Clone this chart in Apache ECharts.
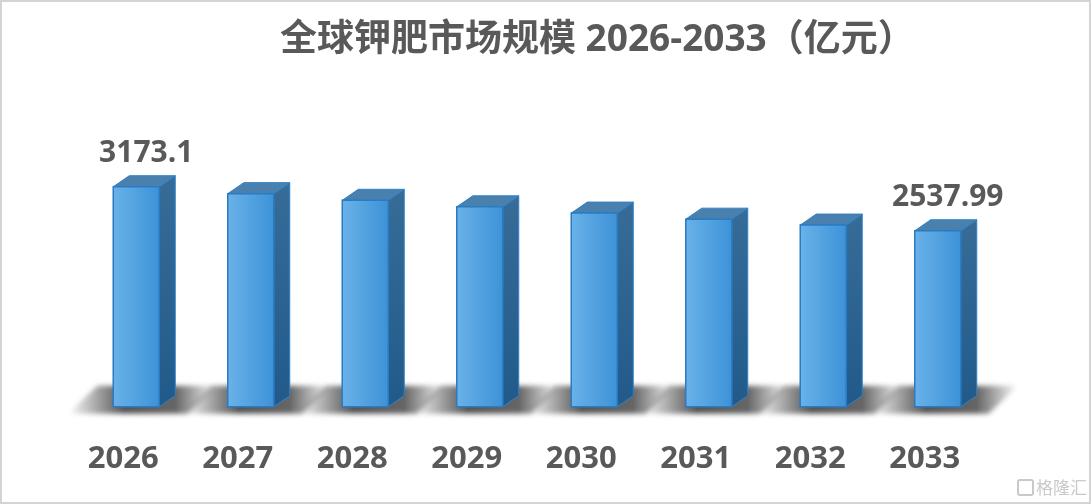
<!DOCTYPE html>
<html><head><meta charset="utf-8">
<script src="https://cdn.jsdelivr.net/npm/echarts@6/dist/echarts.min.js"></script>
<style>html,body{margin:0;padding:0;background:#fff}#c{width:1091px;height:504px}</style>
</head><body><div id="c"></div>
<script>
var titleText = '全球钾肥市场规模 2026-2033（亿元）';
var categories = ['2026','2027','2028','2029','2030','2031','2032','2033'];
var values = [3173.1, 3073.4, 2976.9, 2883.4, 2792.8, 2705.1, 2620.1, 2537.99];
var labeledIndices = [0, 7];

var chart = echarts.init(document.getElementById('c'));
var FW = 46, DX = 16, DY = -11;
var OFF = 3000;

function shadowItem(params, api) {
  var idx = api.value(0);
  var b = api.coord([idx, 0]);
  var xl = b[0] - FW / 2 - OFF;
  var y = b[1];
  return {
    type: 'polygon',
    shape: { points: [[xl - 46, y + 7], [xl - 16, y - 21], [xl + 104, y - 21], [xl + 74, y + 7]] },
    style: {
      fill: new echarts.graphic.LinearGradient(0, 0, 1, 0, [
        { offset: 0, color: 'rgba(0,0,0,0)' },
        { offset: 0.22, color: 'rgba(0,0,0,0.55)' },
        { offset: 0.38, color: 'rgba(0,0,0,0.95)' },
        { offset: 0.72, color: 'rgba(0,0,0,0.85)' },
        { offset: 1, color: 'rgba(0,0,0,0)' }
      ]),
      shadowBlur: 5, shadowOffsetX: OFF, shadowOffsetY: 0, shadowColor: 'rgba(75,75,75,1)'
    }
  };
}

function barItem(params, api) {
  var idx = api.value(0);
  var val = api.value(1);
  var b = api.coord([idx, 0]);
  var t = api.coord([idx, val]);
  var xl = b[0] - FW / 2, xr = b[0] + FW / 2;
  var yb = b[1], yt = t[1];
  var children = [
    { type: 'polygon', shape: { points: [[xr, yt], [xr + DX, yt + DY], [xr + DX, yb + DY], [xr, yb]] },
      style: { fill: new echarts.graphic.LinearGradient(0, 0, 0, 1, [
        { offset: 0, color: '#376c98' }, { offset: 1, color: '#215a8a' }]),
        stroke: '#2f82c8', lineWidth: 1 } },
    { type: 'polygon', shape: { points: [[xl, yt], [xl + DX, yt + DY], [xr + DX, yt + DY], [xr, yt]] },
      style: { fill: '#4a80ad', stroke: '#2f82c8', lineWidth: 1 } },
    { type: 'rect', shape: { x: xl, y: yt, width: FW, height: yb - yt },
      style: { fill: new echarts.graphic.LinearGradient(0, 0, 1, 0, [
        { offset: 0, color: '#6ab2e9' }, { offset: 1, color: '#3c92d7' }]),
        stroke: '#2a7bc2', lineWidth: 1.5 } }
  ];
  if (labeledIndices.indexOf(idx) >= 0) {
    children.push({ type: 'text', x: b[0] + 10, y: yt - 18,
      style: { text: String(values[idx]), fill: '#595959', font: 'bold 30px "Open Sans"',
        textAlign: 'center', textVerticalAlign: 'bottom' } });
  }
  return { type: 'group', children: children };
}

var data = values.map(function (v, i) { return [i, v]; });

chart.setOption({
  backgroundColor: '#ffffff',
  animation: false,
  title: {
    text: titleText, left: 275, top: 17,
    textStyle: { fontFamily: '"Open Sans","Noto Sans CJK SC"', fontWeight: 'bold', fontSize: 37, color: '#595959' }
  },
  grid: { left: 79, right: 96, top: 129.4, bottom: 97.3 },
  xAxis: {
    type: 'category', data: categories,
    axisLine: { show: false }, axisTick: { show: false },
    axisLabel: { color: '#595959', fontSize: 31, fontWeight: 'bold', fontFamily: 'Open Sans', margin: 37, padding: [0, 26, 0, 0] }
  },
  yAxis: { type: 'value', min: 0, max: 4000, show: false, splitLine: { show: false } },
  series: [
    { type: 'custom', renderItem: shadowItem, data: data, z: 1, silent: true, clip: false },
    { type: 'custom', renderItem: barItem, data: data, z: 2 }
  ],
  graphic: [
    { type: 'rect', shape: { x: 1, y: 1, width: 1089, height: 502 }, style: { fill: 'none', stroke: '#d4d4d4', lineWidth: 2 }, z: 10 },
    { type: 'rect', shape: { x: 1018, y: 480, width: 15, height: 15, r: 2 }, style: { fill: 'none', stroke: '#c9c9c9', lineWidth: 2 }, z: 10 },
    { type: 'text', x: 1036, y: 488, style: { text: '格隆汇', fill: '#c9c9c9', font: '17px "Noto Sans CJK SC"', textVerticalAlign: 'middle' }, z: 10 }
  ]
});
</script></body></html>
